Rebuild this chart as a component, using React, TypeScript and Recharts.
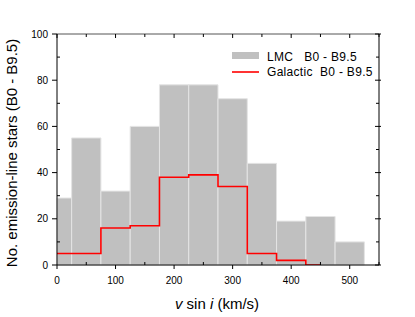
import React from 'react';
import { ComposedChart, XAxis, YAxis, Line, ReferenceArea } from 'recharts';

// LMC histogram bins (km/s) and counts
const lmcBinStart = [0, 25, 75, 125, 175, 225, 275, 325, 375, 425, 475];
const lmcBinEnd = [25, 75, 125, 175, 225, 275, 325, 375, 425, 475, 525];
const lmcCounts = [29, 55, 32, 60, 78, 78, 72, 44, 19, 21, 10];

// Galactic step line: edges and counts
const galacticEdges = [0, 75, 125, 175, 225, 275, 325, 375, 425, 450];
const galacticCounts = [5, 16, 17, 38, 39, 34, 5, 2, 0, 0];

const xTicks = [0, 50, 100, 150, 200, 250, 300, 350, 400, 450, 500, 550];
const yTicks = [0, 10, 20, 30, 40, 50, 60, 70, 80, 90, 100];

const galacticData = galacticEdges.map((x, i) => ({ x, y: galacticCounts[i] }));

const BottomTick = ({ x, y, payload }: any) => {
  const major = payload.value % 100 === 0;
  return (
    <g>
      <line x1={x} x2={x} y1={y} y2={major ? y + 4 : y - 3} stroke="#000" />
      {major && payload.value <= 500 && (
        <text x={x} y={y + 19} textAnchor="middle" fontSize={10} fill="#000">{payload.value}</text>
      )}
    </g>
  );
};

const TopTick = ({ x, y, payload }: any) => {
  const major = payload.value % 100 === 0;
  return <line x1={x} x2={x} y1={y} y2={y + (major ? 4 : 3)} stroke="#000" />;
};

const LeftTick = ({ x, y, payload }: any) => {
  const major = payload.value % 20 === 0;
  return (
    <g>
      <line x1={x} x2={major ? x - 5 : x + 3} y1={y} y2={y} stroke="#000" />
      {major && (
        <text x={x - 9} y={y + 3.5} textAnchor="end" fontSize={10} fill="#000">{payload.value}</text>
      )}
    </g>
  );
};

const RightTick = ({ x, y, payload }: any) => {
  const major = payload.value % 20 === 0;
  return <line x1={major ? x + 2 : x} x2={x - (major ? 4 : 3)} y1={y} y2={y} stroke="#000" />;
};

export default function App() {
  return (
    <div style={{ position: 'absolute', left: 0, top: 0, width: 415, height: 317, background: '#fff', fontFamily: '"Liberation Sans", Arial, sans-serif' }}>
      <ComposedChart width={415} height={317} margin={{ top: 33, right: 35, bottom: 51, left: 56 }}>
        <XAxis xAxisId="b" dataKey="x" type="number" domain={[0, 550]} ticks={xTicks} interval={0}
          height={1} tickSize={0} tickMargin={0} tickLine={false} tick={<BottomTick />}
          axisLine={{ stroke: '#000' }} allowDataOverflow />
        <XAxis xAxisId="t" orientation="top" dataKey="x" type="number" domain={[0, 550]} ticks={xTicks} interval={0}
          height={1} tickSize={0} tickMargin={0} tickLine={false} tick={<TopTick />}
          axisLine={{ stroke: '#555' }} allowDataOverflow />
        <YAxis yAxisId="l" type="number" domain={[0, 100]} ticks={yTicks} interval={0}
          width={1} tickSize={0} tickMargin={0} tickLine={false} tick={<LeftTick />}
          axisLine={{ stroke: '#000' }} allowDataOverflow />
        <YAxis yAxisId="r" orientation="right" type="number" domain={[0, 100]} ticks={yTicks} interval={0}
          width={1} tickSize={0} tickMargin={0} tickLine={false} tick={<RightTick />}
          axisLine={{ stroke: '#000' }} allowDataOverflow />
        {lmcCounts.map((c, i) => (
          <ReferenceArea key={`bin-${i}`} xAxisId="b" yAxisId="l" x1={lmcBinStart[i]} x2={lmcBinEnd[i]} y1={0} y2={c}
            fill="#c0c0c0" fillOpacity={1} stroke="#e4e4e4" strokeWidth={1} ifOverflow="visible" />
        ))}
        <Line xAxisId="b" yAxisId="l" data={galacticData} dataKey="y" type="stepAfter" stroke="#ff0000"
          strokeWidth={1.6} dot={false} isAnimationActive={false} />
      </ComposedChart>
      <svg width={415} height={317} style={{ position: 'absolute', left: 0, top: 0, pointerEvents: 'none' }}>
        <rect x={232} y={52} width={27} height={7} fill="#c0c0c0" />
        <text x={267} y={61} fontSize={12} fill="#000" letterSpacing={0.3} style={{ whiteSpace: 'pre' }}>{'LMC   B0 - B9.5'}</text>
        <line x1={232} x2={259} y1={72} y2={72} stroke="#ff0000" strokeWidth={1.6} />
        <text x={267} y={76} fontSize={12} fill="#000" letterSpacing={0.3} style={{ whiteSpace: 'pre' }}>{'Galactic  B0 - B9.5'}</text>
        <text x={17} y={153} fontSize={15} fill="#000" textAnchor="middle" transform="rotate(-90 17 153)">
          No. emission-line stars (B0 - B9.5)
        </text>
        <text x={217} y={309} fontSize={15} fill="#000" textAnchor="middle">
          <tspan fontStyle="italic">v</tspan> sin <tspan fontStyle="italic">i</tspan> (km/s)
        </text>
      </svg>
    </div>
  );
}
